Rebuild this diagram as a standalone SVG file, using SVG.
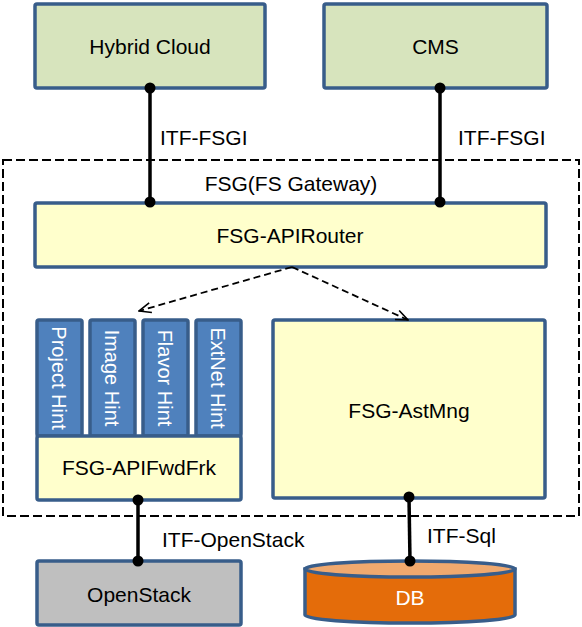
<svg xmlns="http://www.w3.org/2000/svg" width="582" height="627" viewBox="0 0 582 627">
<defs>
<style>
.box{stroke:#385d8a;stroke-width:3.5}
.green{fill:#d7e4bd}
.yellow{fill:#ffffcc}
.hint{fill:#4f81bd}
.gray{fill:#bfbfbf}
.t{font-family:"Liberation Sans",Arial,sans-serif;font-size:21px;fill:#000}
.c{text-anchor:middle}
.w{fill:#fff}
.link{stroke:#000;stroke-width:3.5;fill:none}
.dot{fill:#000}
.dash{stroke:#000;stroke-width:2;fill:none;stroke-dasharray:9,4}
.adash{stroke:#000;stroke-width:1.8;fill:none;stroke-dasharray:7,4}
</style>
<marker id="open" viewBox="0 0 14 12" refX="13" refY="6" markerWidth="14" markerHeight="12" markerUnits="userSpaceOnUse" orient="auto">
<path d="M1,1 L13,6 L1,11" fill="none" stroke="#000" stroke-width="1.6"/>
</marker>
</defs>
<rect width="582" height="627" fill="#fff"/>
<g id="fsg-boundary">
<rect x="3" y="160" width="576" height="356" class="dash"/>
<text class="t c" x="291" y="191">FSG(FS Gateway)</text>
</g>
<g id="hybrid-cloud">
<rect x="35" y="4" width="230" height="84" rx="2" class="box green"/>
<text class="t c" x="150" y="54">Hybrid Cloud</text>
</g>
<g id="cms">
<rect x="324" y="4" width="223" height="84" rx="2" class="box green"/>
<text class="t c" x="435.5" y="54">CMS</text>
</g>
<g id="apirouter">
<rect x="35" y="203" width="511" height="64" rx="2" class="box yellow"/>
<text class="t c" x="290" y="243">FSG-APIRouter</text>
</g>
<g id="project-hint">
<rect x="37" y="320" width="45" height="116" rx="2" class="box hint"/>
<text class="t c w" style="font-size:20px" transform="translate(52,378) rotate(90)">Project Hint</text>
</g>
<g id="image-hint">
<rect x="90" y="320" width="45" height="116" rx="2" class="box hint"/>
<text class="t c w" style="font-size:20px" transform="translate(105,378) rotate(90)">Image Hint</text>
</g>
<g id="flavor-hint">
<rect x="143" y="320" width="45" height="116" rx="2" class="box hint"/>
<text class="t c w" style="font-size:20px" transform="translate(158,378) rotate(90)">Flavor Hint</text>
</g>
<g id="extnet-hint">
<rect x="196" y="320" width="45" height="116" rx="2" class="box hint"/>
<text class="t c w" style="font-size:20px" transform="translate(211,378) rotate(90)">ExtNet Hint</text>
</g>
<g id="apifwdfrk">
<rect x="37" y="436" width="204" height="64" rx="2" class="box yellow"/>
<text class="t c" x="139" y="475">FSG-APIFwdFrk</text>
</g>
<g id="astmng">
<rect x="273" y="320" width="272" height="178" rx="2" class="box yellow"/>
<text class="t c" x="409" y="418">FSG-AstMng</text>
</g>
<g id="openstack">
<rect x="37" y="561" width="204" height="64" rx="2" class="box gray"/>
<text class="t c" x="139" y="602">OpenStack</text>
</g>
<g id="db">
<path d="M305,569 L305,615 A105,8 0 0,0 515,615 L515,569 Z" fill="#e46c0a" class="box"/>
<ellipse cx="410" cy="569" rx="105" ry="8" fill="#f0a96e" class="box"/>
<text class="t c w" x="410" y="605">DB</text>
</g>
<g id="connectors">
<line x1="150" y1="88" x2="150" y2="202" class="link"/>
<circle cx="150" cy="88" r="5.5" class="dot"/>
<circle cx="150" cy="202" r="5.5" class="dot"/>
<text class="t" x="160" y="145">ITF-FSGI</text>
<line x1="440" y1="88" x2="440" y2="202" class="link"/>
<circle cx="440" cy="88" r="5.5" class="dot"/>
<circle cx="440" cy="202" r="5.5" class="dot"/>
<text class="t" x="458" y="145">ITF-FSGI</text>
<line x1="292" y1="267" x2="139" y2="311" class="adash" marker-end="url(#open)"/>
<line x1="292" y1="267" x2="408" y2="320" class="adash" marker-end="url(#open)"/>
<line x1="138" y1="500" x2="138" y2="561" class="link"/>
<circle cx="138" cy="500" r="5.5" class="dot"/>
<circle cx="138" cy="561" r="5.5" class="dot"/>
<text class="t" x="162" y="547">ITF-OpenStack</text>
<line x1="409" y1="497" x2="410" y2="561" class="link"/>
<circle cx="409" cy="497" r="5.5" class="dot"/>
<circle cx="410" cy="561" r="5.5" class="dot"/>
<text class="t" x="427" y="543">ITF-Sql</text>
</g>
</svg>
